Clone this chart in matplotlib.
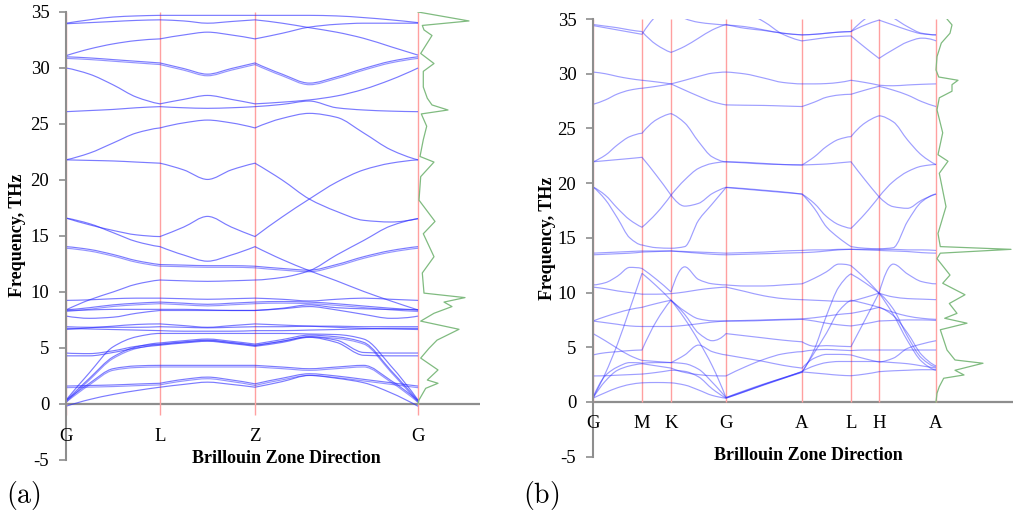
import numpy as np
import matplotlib
matplotlib.use("Agg")
import matplotlib.pyplot as plt
from matplotlib.path import Path
from matplotlib.patches import PathPatch
from matplotlib import transforms

# ---------------------------------------------------------------- data
freq_ticks = [-5, 0, 5, 10, 15, 20, 25, 30, 35]
freq_tick_labels = ["-5", "0", "5", "10", "15", "20", "25", "30", "35"]

# panel (a): path G-L-Z-G
a_labels = ["G", "L", "Z", "G"]
a_path = [0, 94, 189, 352]          # cumulative path length at each symmetry point
a_steps = [4, 4, 6]                 # sampled intervals per path segment

a_t1 = [34.0, 34.3, 34.55, 34.65, 34.7, 34.7, 34.7, 34.7, 34.7, 34.7, 34.7, 34.65, 34.5, 34.3, 34.05]
a_t2 = [33.95, 34.05, 34.15, 34.25, 34.3, 34.2, 34.0, 34.15, 34.3, 34.0, 33.6, 33.2, 32.65, 31.9, 31.15]
a_t3 = [31.1, 31.7, 32.15, 32.45, 32.6, 32.95, 33.2, 32.95, 32.6, 33.1, 33.65, 33.9, 34.0, 34.0, 34.0]
a_t4 = [31.0, 30.9, 30.75, 30.6, 30.45, 29.95, 29.45, 29.95, 30.45, 29.45, 28.65, 29.2, 29.95, 30.6, 31.0]
a_t5 = [30.0, 29.45, 28.5, 27.4, 26.8, 27.2, 27.55, 27.2, 26.8, 26.95, 27.15, 27.5, 28.1, 28.95, 30.0]
a_t6 = [26.1, 26.2, 26.3, 26.45, 26.55, 26.45, 26.4, 26.45, 26.55, 26.75, 27.05, 26.45, 26.25, 26.15, 26.1]
a_t7 = [21.8, 22.4, 23.3, 24.2, 24.65, 25.1, 25.35, 25.1, 24.65, 25.5, 25.95, 25.6, 24.2, 22.7, 21.8]
a_t8 = [21.8, 21.75, 21.7, 21.6, 21.5, 20.9, 20.05, 20.9, 21.5, 20.0, 18.3, 17.2, 16.4, 16.25, 16.55]
a_t9 = [16.6, 16.0, 15.5, 15.1, 14.95, 15.8, 16.75, 15.8, 14.95, 16.7, 18.3, 19.8, 20.9, 21.5, 21.8]
a_t10 = [16.6, 16.1, 15.3, 14.5, 14.05, 13.3, 12.75, 13.3, 14.05, 12.9, 11.9, 11.0, 10.05, 9.2, 8.4]
a_t11 = [14.05, 13.8, 13.35, 12.8, 12.45, 12.4, 12.35, 12.35, 12.3, 12.1, 11.95, 12.45, 13.15, 13.7, 14.05]
a_t12 = [8.4, 9.3, 10.0, 10.7, 11.07, 11.0, 10.95, 11.0, 11.07, 11.3, 11.9, 13.3, 14.6, 15.9, 16.55]
a_m1 = [9.25, 9.3, 9.4, 9.45, 9.45, 9.4, 9.35, 9.4, 9.45, 9.35, 9.2, 9.35, 9.45, 9.35, 9.25]
a_m2 = [8.4, 8.6, 8.85, 9.0, 9.1, 9.0, 8.9, 9.0, 9.1, 9.15, 9.1, 8.95, 8.75, 8.55, 8.4]
a_m3 = [8.35, 8.4, 8.45, 8.45, 8.45, 8.45, 8.4, 8.35, 8.35, 8.55, 8.85, 8.6, 8.5, 8.45, 8.4]
a_m4 = [7.85, 7.65, 7.75, 8.1, 8.35, 8.35, 8.35, 8.35, 8.35, 8.5, 8.7, 8.4, 8.0, 7.65, 7.85]
a_m5 = [6.9, 6.85, 6.85, 6.85, 6.9, 6.85, 6.8, 6.85, 6.9, 6.9, 6.95, 6.95, 6.9, 6.9, 6.9]
a_m6 = [6.65, 6.8, 6.95, 7.1, 7.15, 7.0, 6.85, 7.0, 7.15, 7.05, 6.95, 6.85, 6.75, 6.7, 6.65]
a_m7 = [6.75, 6.7, 6.65, 6.6, 6.55, 6.5, 6.5, 6.5, 6.55, 6.55, 6.6, 6.65, 6.7, 6.75, 6.75]
a_m8 = [0.35, 2.8, 5.1, 6.0, 6.3, 6.3, 6.3, 6.3, 6.3, 6.3, 6.25, 6.2, 5.8, 3.4, 0.35]
a_m9 = [0.3, 2.3, 4.2, 5.1, 5.45, 5.65, 5.8, 5.6, 5.35, 5.75, 6.15, 6.0, 5.5, 3.0, 0.3]
a_m11 = [4.55, 4.5, 4.75, 5.15, 5.35, 5.55, 5.7, 5.5, 5.25, 5.6, 6.0, 5.7, 4.6, 4.55, 4.55]
a_m12 = [4.3, 4.3, 4.6, 5.0, 5.25, 5.45, 5.6, 5.4, 5.15, 5.5, 5.95, 5.5, 4.35, 4.3, 4.3]
a_l1 = [0.3, 1.85, 3.15, 3.4, 3.45, 3.45, 3.45, 3.45, 3.45, 3.3, 3.15, 3.3, 3.45, 2.1, 0.3]
a_l3 = [1.6, 1.65, 1.7, 1.78, 1.85, 2.2, 2.4, 2.15, 1.8, 2.3, 2.7, 2.5, 2.2, 1.9, 1.6]
a_l4 = [-0.2, 0.4, 0.85, 1.2, 1.5, 1.75, 1.95, 1.75, 1.5, 2.0, 2.55, 2.3, 1.9, 1.0, -0.2]

a_bands = [a_t1, a_t2, a_t3, a_t4, a_t5, a_t6, a_t7, a_t8, a_t9, a_t10, a_t11, a_t12,
           a_m1, a_m2, a_m3, a_m4, a_m5, a_m6, a_m7, a_m8, a_m9, a_m11, a_m12,
           a_l1, a_l3, a_l4]
a_paired = [a_t4, a_t11, a_m9, a_l1, a_l3, a_m2]   # near-degenerate pairs

a_dos_freq = [35.0, 34.2, 33.8, 33.4, 32.9, 31.3, 30.4, 29.7, 28.3, 27.3, 26.7, 26.25, 25.9,
              24.8, 23.6, 22.1, 21.6, 20.3, 18.2, 16.3, 15.2, 13.15, 11.7, 9.9, 9.5, 9.1,
              8.7, 8.1, 7.4, 6.67, 5.7, 4.97, 4.1, 3.04, 2.14, 1.85, 1.4, 0.36, 0.0]
a_dos = [0, 51, 4.3, 6, 14, 2.7, 16, 5.3, 5.3, 9.3, 14, 30, 3.3, 8.7, 5.3, 2, 16, 2.7, 1,
         17, 5.3, 16, 4.3, 6, 47, 26, 34, 16, 2.7, 41, 19, 11, 2.7, 20, 9.3, 20, 7.7, 1, 0]

# panel (b): path G-M-K-G-A-L-H-A
b_labels = ["G", "M", "K", "G", "A", "L", "H", "A"]
b_path = [0, 49, 78, 133, 209, 258, 286, 343]
b_steps = [4, 2, 4, 4, 4, 2, 4]

b_u1 = [34.5, 34.35, 34.2, 34.0, 33.85, 32.65, 31.95, 32.5, 33.25, 34.0, 34.5, 34.15, 33.95,
        33.7, 33.55, 33.6, 33.7, 33.8, 33.85, 34.45, 34.9, 34.45, 34.0, 33.65, 33.55]
b_u2 = [34.4, 34.2, 34.0, 33.8, 33.6, 35.3, 36.2, 35.05, 34.7, 34.55, 34.45, 34.3, 34.0,
        33.7, 33.55, 33.6, 33.7, 33.8, 33.85, 35.0, 35.8, 35.1, 34.3, 33.7, 33.55]
b_u3 = [36.5, 36.4, 36.3, 36.2, 36.0, 36.3, 36.5, 36.4, 36.2, 36.0, 35.9, 35.6, 34.75,
        33.6, 33.0, 33.15, 33.3, 33.4, 33.45, 32.4, 31.4, 32.2, 32.9, 33.25, 33.0]
b_v1 = [30.15, 30.0, 29.75, 29.55, 29.4, 29.25, 29.07, 29.4, 29.75, 30.05, 30.15, 29.98, 29.6,
        29.2, 29.07, 29.07, 29.1, 29.2, 29.4, 29.2, 28.95, 28.9, 28.97, 29.03, 29.07]
b_v2 = [27.2, 27.6, 28.15, 28.5, 28.67, 28.85, 29.07, 28.5, 27.95, 27.45, 27.15, 27.12, 27.1,
        27.05, 27.0, 27.4, 27.85, 28.05, 28.12, 28.5, 28.85, 28.5, 28.05, 27.45, 27.0]
b_w1 = [21.95, 22.55, 23.5, 24.25, 24.56, 25.8, 26.35, 25.5, 23.8, 22.4, 21.95, 21.9, 21.8,
        21.7, 21.66, 22.4, 23.35, 24.0, 24.25, 25.5, 26.15, 25.6, 23.95, 22.55, 21.7]
b_w2 = [21.95, 22.05, 22.15, 22.25, 22.36, 20.7, 18.9, 17.9, 18.15, 19.05, 19.62, 19.5, 19.35,
        19.2, 19.0, 18.15, 16.95, 16.2, 15.87, 17.2, 18.75, 20.15, 21.05, 21.55, 21.7]
b_w3 = [19.65, 18.9, 17.7, 16.65, 15.97, 17.25, 18.9, 20.3, 21.35, 21.8, 21.95, 21.85, 21.75,
        21.7, 21.66, 21.7, 21.75, 21.85, 21.95, 20.3, 18.75, 17.85, 17.7, 18.45, 19.0]
b_w4 = [19.65, 18.5, 16.8, 15.0, 14.35, 14.1, 14.05, 14.2, 16.6, 18.1, 19.6, 19.45, 19.3,
        19.15, 19.0, 17.7, 16.0, 15.0, 14.2, 14.05, 14.0, 14.1, 16.5, 18.3, 19.0]
b_c1 = [13.6, 13.65, 13.7, 13.75, 13.8, 13.8, 13.8, 13.75, 13.7, 13.65, 13.6, 13.65, 13.7,
        13.8, 13.85, 13.9, 13.9, 13.95, 13.95, 13.95, 13.95, 13.95, 13.9, 13.9, 13.85]
b_c2 = [13.45, 13.5, 13.55, 13.6, 13.7, 13.75, 13.8, 13.7, 13.6, 13.5, 13.45, 13.5, 13.55,
        13.6, 13.65, 13.7, 13.8, 13.9, 13.95, 13.9, 13.85, 13.8, 13.75, 13.65, 13.6]
b_a = [10.7, 10.9, 11.5, 12.3, 12.2, 11.2, 10.05, 12.35, 11.2, 10.8, 10.7, 10.6, 10.6,
       10.7, 10.8, 11.3, 11.9, 12.6, 12.45, 11.3, 9.95, 8.5, 6.0, 4.0, 3.2]
b_b = [10.5, 10.35, 10.15, 10.0, 9.85, 9.85, 9.9, 10.05, 10.25, 10.4, 10.5, 10.1, 9.7,
       9.45, 9.35, 9.3, 9.25, 9.2, 9.2, 9.55, 9.95, 9.6, 9.45, 9.4, 9.35]
b_c = [0.4, 2.6, 5.3, 8.5, 11.76, 10.6, 9.3, 8.3, 7.6, 7.42, 7.4, 7.45, 7.5,
       7.55, 7.6, 7.7, 7.85, 8.0, 8.1, 8.35, 8.65, 8.2, 7.85, 7.65, 7.55]
b_d = [7.4, 7.8, 8.15, 8.45, 8.65, 9.0, 9.3, 7.6, 5.6, 3.3, 0.4, 1.05, 1.65,
       2.2, 2.75, 4.8, 7.9, 10.5, 11.7, 10.9, 9.95, 8.0, 5.6, 3.7, 2.9]
b_e = [7.4, 7.25, 7.1, 6.95, 6.9, 6.9, 6.9, 7.0, 7.15, 7.3, 7.4, 7.4, 7.45,
       7.5, 7.55, 7.4, 7.2, 7.05, 6.95, 7.15, 7.4, 7.45, 7.5, 7.5, 7.45]
b_f = [6.25, 5.6, 4.9, 4.25, 3.8, 3.7, 3.6, 3.5, 3.0, 1.8, 0.4, 1.0, 1.6,
       2.15, 2.7, 4.5, 6.3, 8.3, 9.3, 9.0, 8.65, 7.9, 6.3, 4.3, 3.3]
b_g = [4.3, 4.5, 4.6, 4.7, 4.75, 7.4, 9.3, 8.0, 6.3, 5.6, 6.25, 6.05, 5.85,
       5.65, 5.5, 5.1, 5.15, 5.1, 5.06, 7.5, 9.95, 12.6, 11.7, 11.0, 10.8]
b_h = [0.4, 2.4, 3.2, 3.6, 3.55, 3.6, 3.6, 4.3, 5.2, 4.6, 4.3, 4.0, 3.7,
       3.35, 3.1, 4.0, 4.35, 4.35, 4.3, 3.95, 3.65, 4.0, 4.9, 5.3, 5.6]
b_i = [2.38, 2.4, 2.45, 2.5, 2.55, 2.7, 2.9, 2.8, 2.3, 1.2, 0.35, 0.95, 1.55,
       2.15, 2.8, 3.3, 3.6, 3.7, 3.7, 3.7, 3.7, 3.6, 3.5, 3.3, 3.1]
b_j = [0.35, 0.85, 1.3, 1.6, 1.75, 1.78, 1.75, 1.55, 1.1, 0.6, 0.35, 0.95, 1.6,
       2.2, 2.75, 2.65, 2.55, 2.45, 2.4, 2.55, 2.77, 2.85, 2.9, 2.95, 2.95]
b_k = [0.35, 1.9, 2.9, 3.3, 3.5, 3.3, 3.1, 2.7, 2.5, 2.4, 2.38, 3.2, 3.9,
       4.4, 4.6, 4.75, 4.8, 4.75, 4.7, 4.75, 4.75, 4.75, 4.75, 4.75, 4.75]

b_bands = [b_u1, b_u2, b_u3, b_v1, b_v2, b_w1, b_w2, b_w3, b_w4, b_c1, b_c2,
           b_a, b_b, b_c, b_d, b_e, b_f, b_g, b_h, b_i, b_j, b_k]

b_dos_freq = [35.0, 34.46, 33.7, 32.8, 31.56, 30.35, 29.7, 29.4, 29.0, 28.4, 27.8, 26.7, 24.6,
              22.6, 22.0, 20.9, 17.85, 15.4, 14.2, 13.95, 13.6, 13.1, 11.6, 10.85, 9.8, 9.0,
              8.1, 7.65, 7.2, 6.6, 4.75, 3.84, 3.54, 2.9, 2.47, 2.17, 1.4, 0.8, 0.0]
b_dos = [11, 16, 14, 5.3, 1, 0, 2.7, 22, 16, 16, 3.3, 1, 6.7, 2, 12, 3.3, 10, 2, 4.3, 75,
         4.3, 1, 14, 6.7, 29, 13.3, 21, 8.7, 31, 4.3, 11, 19, 47, 19, 28, 7.7, 3.3, 1, 0]

# ---------------------------------------------------------------- style
plt.rcParams["font.family"] = ["Liberation Serif", "DejaVu Serif"]
plt.rcParams["mathtext.fontset"] = "cm"

W, H = 1013, 520
BAND_COLOR = "#2a2aff"
SYM_COLOR = "#ffa0a0"
AXIS_GRAY = "#8e8e8e"
DOS_COLOR = "#80bb80"
LABEL_SIZE = 13.5


def slopes(x, y):
    """Shape-preserving (PCHIP) tangents for one path segment."""
    h = np.diff(x)
    d = np.diff(y) / h
    n = len(x)
    m = np.zeros(n)
    for i in range(1, n - 1):
        if d[i - 1] * d[i] > 0:
            w1 = 2 * h[i] + h[i - 1]
            w2 = h[i] + 2 * h[i - 1]
            m[i] = (w1 + w2) / (w1 / d[i - 1] + w2 / d[i])
    if n > 2:
        for end, (h0, h1, d0, d1) in ((0, (h[0], h[1], d[0], d[1])),
                                      (n - 1, (h[-1], h[-2], d[-1], d[-2]))):
            v = ((2 * h0 + h1) * d0 - h0 * d1) / (h0 + h1)
            if np.sign(v) != np.sign(d0):
                v = 0.0
            elif np.sign(d0) != np.sign(d1) and abs(v) > abs(3 * d0):
                v = 3 * d0
            m[end] = v
    else:
        m[:] = d[0]
    return m


def band_path(path, steps, vals):
    verts, codes = [], []
    start = 0
    for s, n in enumerate(steps):
        x = np.linspace(path[s], path[s + 1], n + 1)
        y = np.asarray(vals[start:start + n + 1], dtype=float)
        m = slopes(x, y)
        if s == 0:
            verts.append((x[0], y[0]))
            codes.append(Path.MOVETO)
        for j in range(n):
            hh = x[j + 1] - x[j]
            verts += [(x[j] + hh / 3, y[j] + m[j] * hh / 3),
                      (x[j + 1] - hh / 3, y[j + 1] - m[j + 1] * hh / 3),
                      (x[j + 1], y[j + 1])]
            codes += [Path.CURVE4] * 3
        start += n
    return Path(verts, codes)


def setup_axes(ax, xmax):
    ax.set_xlim(0, xmax)
    ax.set_ylim(-5, 35)
    for side in ("top", "right", "bottom"):
        ax.spines[side].set_visible(False)
    ax.spines["left"].set_color(AXIS_GRAY)
    ax.spines["left"].set_linewidth(1.5)
    ax.set_xticks([])
    ax.set_yticks(freq_ticks)
    ax.set_yticklabels(freq_tick_labels)
    ax.tick_params(axis="y", length=5, width=1.2, color=AXIS_GRAY, pad=7,
                   labelsize=LABEL_SIZE)
    ax.axhline(0, color=AXIS_GRAY, lw=1.6, zorder=1)
    ax.patch.set_alpha(0)


def draw_panel(ax, path, steps, bands, paired, alpha, sym_bottom, dos_freq, dos):
    ax.vlines(path, sym_bottom, 35, color=SYM_COLOR, lw=1.0, zorder=1.5)
    shifted = transforms.offset_copy(ax.transData, fig=ax.figure, x=0, y=-1.6, units="dots")
    for vals in bands:
        p = band_path(path, steps, vals)
        ax.add_patch(PathPatch(p, fill=False, edgecolor=BAND_COLOR, lw=0.85,
                               alpha=alpha, zorder=2))
        if any(vals is q for q in paired):
            ax.add_patch(PathPatch(p, fill=False, edgecolor=BAND_COLOR, lw=0.85,
                                   alpha=alpha * 0.8, zorder=2, transform=shifted))
    ax.plot(path[-1] + np.asarray(dos), dos_freq, color=DOS_COLOR, lw=0.9, zorder=2)


fig = plt.figure(figsize=(W / 100, H / 100), dpi=100)

# panel (a)
ax_a = fig.add_axes([66 / W, 60 / H, 414 / W, 448 / H])
setup_axes(ax_a, 414)
draw_panel(ax_a, a_path, a_steps, a_bands, a_paired, 0.62, -1, a_dos_freq, a_dos)
for xv, lab in zip(a_path, a_labels):
    ax_a.text(xv, -2.86, lab, ha="center", va="center", fontsize=LABEL_SIZE)

# panel (b)
ax_b = fig.add_axes([593 / W, 63.3 / H, 420 / W, 437.7 / H])
setup_axes(ax_b, 420)
draw_panel(ax_b, b_path, b_steps, b_bands, [], 0.45, 0, b_dos_freq, b_dos)
for xv, lab in zip(b_path, b_labels):
    ax_b.text(xv, -1.95, lab, ha="center", va="center", fontsize=LABEL_SIZE)

# axis titles and panel tags
fig.text(286 / W, 1 - 458.5 / H, "Brillouin Zone Direction", ha="center", va="center",
         fontsize=13, fontweight="bold")
fig.text(808 / W, 1 - 455 / H, "Brillouin Zone Direction", ha="center", va="center",
         fontsize=13, fontweight="bold")
fig.text(18 / W, 1 - 235 / H, "Frequency, THz", ha="center", va="center", rotation=90,
         fontsize=13, fontweight="bold")
fig.text(547 / W, 1 - 238 / H, "Frequency, THz", ha="center", va="center", rotation=90,
         fontsize=13, fontweight="bold")
fig.text(23 / W, 1 - 496 / H, r"$\mathrm{(a)}$", ha="center", va="center", fontsize=20)
fig.text(541 / W, 1 - 496 / H, r"$\mathrm{(b)}$", ha="center", va="center", fontsize=20)

fig.savefig("out.png", dpi=100, facecolor="white")
